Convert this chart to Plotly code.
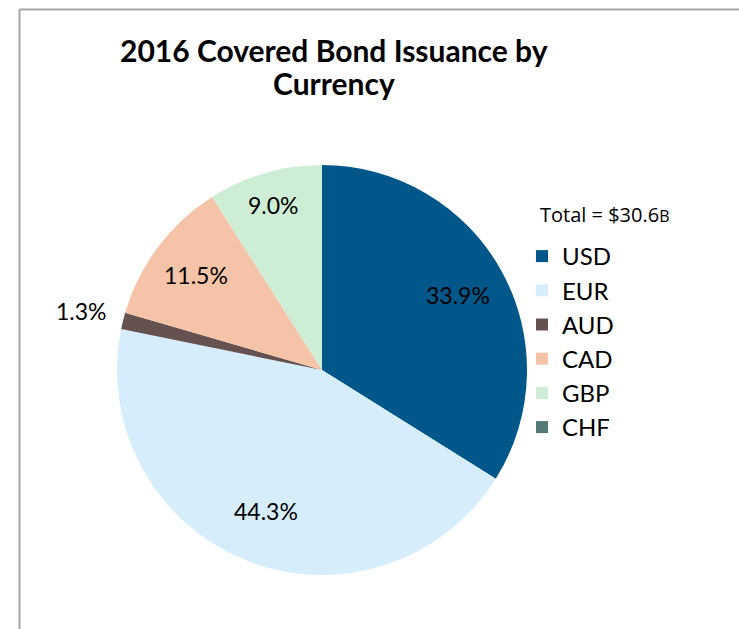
import math
import plotly.graph_objects as go

currencies = ["USD", "EUR", "AUD", "CAD", "GBP", "CHF"]
shares = [33.9, 44.3, 1.3, 11.5, 9.0, 0.0]
colors = ["#01578A", "#D6EEFC", "#655250", "#F4C3A8", "#CDEDD5", "#537A76"]
label_radius = [0.76, 0.74, 1.21, 0.77, 0.84, None]  # style: radial placement of labels
title_lines = ["2016 Covered Bond Issuance by", "Currency"]
total_text = "Total = $30.6"

W, H = 739, 629
cx, cy, r = 322, 370, 205

fig = go.Figure(go.Pie(
    labels=currencies,
    values=shares,
    sort=False,
    direction="clockwise",
    rotation=0,
    marker=dict(colors=colors, line=dict(width=0)),
    textinfo="none",
    domain=dict(x=[(cx - r) / W, (cx + r) / W], y=[(H - cy - r) / H, (H - cy + r) / H]),
    automargin=False,
    hoverinfo="label+percent",
    showlegend=True,
))

# data labels placed at each slice's mid-angle
annotations = []
total = sum(shares)
cum = 0.0
for name, v, rf in zip(currencies, shares, label_radius):
    mid = (cum + v / 2) / total * 2 * math.pi
    cum += v
    if v <= 0 or rf is None:
        continue
    px = cx + math.sin(mid) * r * rf
    py = cy - math.cos(mid) * r * rf
    annotations.append(dict(
        text=f"{v:.1f}%", x=px / W, y=1 - py / H, xref="paper", yref="paper",
        xanchor="center", yanchor="middle", showarrow=False,
        font=dict(family="Lato", size=23, color="black"),
    ))

# title, one annotation per line for tighter line spacing
for i, line in enumerate(title_lines):
    annotations.append(dict(
        text=f"<b>{line}</b>", x=334 / W, y=1 - (50 + 33 * i) / H, xref="paper", yref="paper",
        xanchor="center", yanchor="middle", showarrow=False,
        font=dict(family="Lato", size=30, color="black"),
    ))

annotations.append(dict(
    text=total_text + "<span style='font-size:16px'>B</span>",
    x=538 / W, y=1 - 215 / H, xref="paper", yref="paper",
    xanchor="left", yanchor="middle", showarrow=False,
    font=dict(family="Open Sans", size=20, color="black"),
))

fig.update_layout(
    width=W, height=H,
    margin=dict(l=0, r=0, t=0, b=0),
    paper_bgcolor="white",
    plot_bgcolor="white",
    legend=dict(
        x=522 / W, y=1 - 234 / H, xanchor="left", yanchor="top",
        font=dict(family="Lato", size=24, color="black"),
        bgcolor="rgba(0,0,0,0)",
        traceorder="normal",
        itemwidth=30,
    ),
    annotations=annotations,
    shapes=[
        dict(type="line", xref="paper", yref="paper", x0=19.5 / W, x1=1, y0=1 - 9.5 / H, y1=1 - 9.5 / H,
             line=dict(color="#A6A6A6", width=2)),
        dict(type="line", xref="paper", yref="paper", x0=19.5 / W, x1=19.5 / W, y0=0, y1=1 - 9.5 / H,
             line=dict(color="#A6A6A6", width=2)),
    ],
)

fig.write_html("out.html", config={"displayModeBar": False},
               post_script="document.body.style.margin='0';document.body.style.overflow='hidden';")
